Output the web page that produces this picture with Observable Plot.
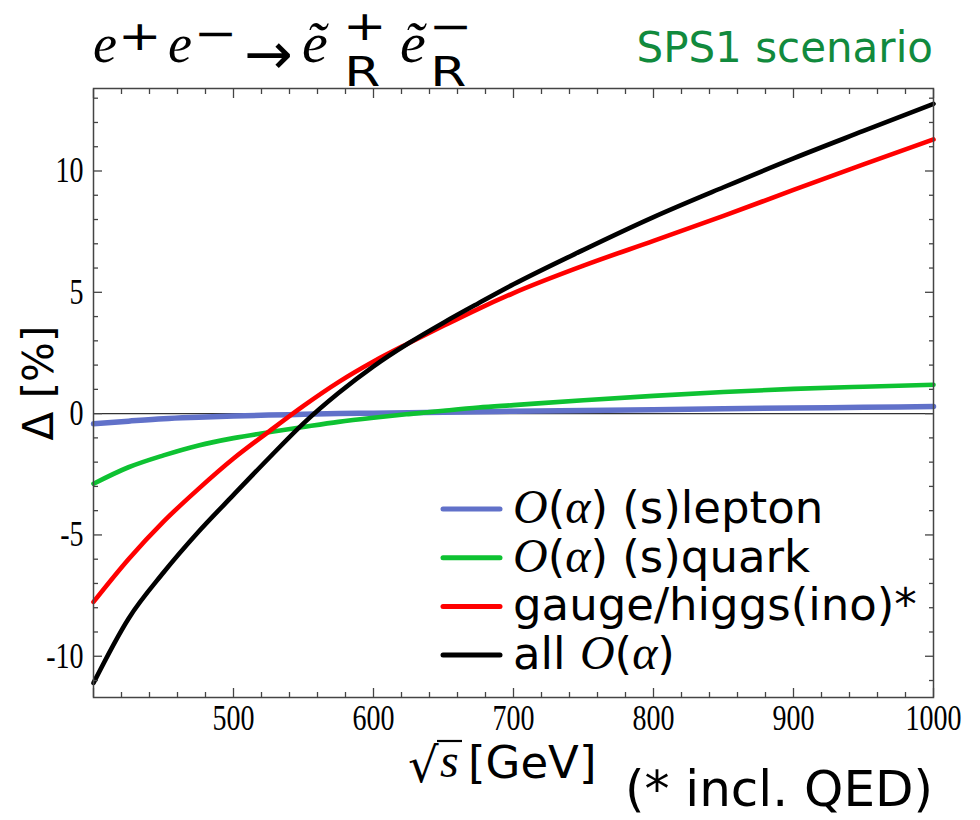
<!DOCTYPE html>
<html><head><meta charset="utf-8">
<script src="https://cdn.jsdelivr.net/npm/d3@7"></script>
<script src="https://cdn.jsdelivr.net/npm/@observablehq/plot@0.6"></script>
<style>
body{margin:0;background:#fff;}
#wrap{position:relative;width:980px;height:820px;overflow:hidden;background:#fff;}
</style></head>
<body><div id="wrap"></div>
<script>
// ---- data ----
const energy          = [400, 425, 450, 475, 500, 525, 550, 575, 600, 625, 650, 675, 700, 750, 800, 850, 900, 950, 1000];
const sleptonDelta    = [-0.42, -0.31, -0.21, -0.15, -0.10, -0.06, -0.03, 0.00, 0.02, 0.04, 0.06, 0.08, 0.10, 0.13, 0.16, 0.20, 0.23, 0.26, 0.29];
const squarkDelta     = [-2.89, -2.21, -1.72, -1.31, -1.01, -0.77, -0.55, -0.34, -0.17, -0.02, 0.12, 0.25, 0.35, 0.55, 0.73, 0.89, 1.02, 1.11, 1.19];
const gaugeHiggsDelta = [-7.76, -6.00, -4.45, -3.10, -1.85, -0.75, 0.32, 1.30, 2.15, 2.90, 3.62, 4.32, 4.97, 6.10, 7.12, 8.15, 9.22, 10.27, 11.30];
const allDelta        = [-11.10, -8.45, -6.55, -4.87, -3.35, -1.85, -0.40, 0.85, 1.95, 2.90, 3.75, 4.55, 5.33, 6.75, 8.10, 9.33, 10.52, 11.65, 12.77];

const seriesKeys   = ["slepton", "squark", "gaugehiggs", "all"];
const seriesColors = ["#6171c9", "#0ec232", "#ff0000", "#000000"];
const seriesWidths = [5.5, 4.6, 4.6, 4.6];
const legendLabels = ["{O}({α}) (s)lepton", "{O}({α}) (s)quark", "gauge/higgs(ino)*", "all {O}({α})"];

const xTickLabels = [500, 600, 700, 800, 900, 1000];
const xMajorTicks = [400, 500, 600, 700, 800, 900, 1000];
const xMinorTicks = [420, 440, 460, 480, 520, 540, 560, 580, 620, 640, 660, 680, 720, 740, 760, 780, 820, 840, 860, 880, 920, 940, 960, 980];
const yTickLabels = [-10, -5, 0, 5, 10];
const yMinorTicks = [-11, -9, -8, -7, -6, -4, -3, -2, -1, 1, 2, 3, 4, 6, 7, 8, 9, 11, 12, 13];

const titleText = "SPS1 scenario";
const xTitleText = "[GeV]";
const yTitleText = "Δ [%]";
const noteText = "(* incl. QED)";

// ---- table built from the arrays ----
const seriesValues = [sleptonDelta, squarkDelta, gaugeHiggsDelta, allDelta];
const table = [];
seriesKeys.forEach((k, j) => energy.forEach((e, i) => table.push({energy: e, delta: seriesValues[j][i], series: k})));

const tickStyle = {stroke: "#444", strokeWidth: 1.3, fill: "none", label: null};

const plot = Plot.plot({
  width: 980, height: 820,
  marginTop: 88, marginRight: 47, marginBottom: 123, marginLeft: 93,
  x: {domain: [400, 1000]},
  y: {domain: [-11.7, 13.4]},
  color: {domain: seriesKeys, range: seriesColors},
  style: {background: "white", color: "black"},
  marks: [
    Plot.ruleY([0], {stroke: "#333", strokeWidth: 1.3}),
    ...seriesKeys.map((k, j) => Plot.line(table.filter(d => d.series === k), {
      x: "energy", y: "delta", stroke: "series", strokeWidth: seriesWidths[j], curve: "monotone-x"
    })),
    Plot.frame({stroke: "#444", strokeWidth: 1.5}),
    Plot.axisX(xMajorTicks, {anchor: "bottom", tickSize: 9, insetBottom: 9, ...tickStyle}),
    Plot.axisX(xMinorTicks, {anchor: "bottom", tickSize: 5, insetBottom: 5, ...tickStyle}),
    Plot.axisX(xMajorTicks, {anchor: "top", tickSize: 9, insetTop: 9, ...tickStyle}),
    Plot.axisX(xMinorTicks, {anchor: "top", tickSize: 5, insetTop: 5, ...tickStyle}),
    Plot.axisY(yTickLabels, {anchor: "left", tickSize: 9, insetLeft: 9, ...tickStyle}),
    Plot.axisY(yMinorTicks, {anchor: "left", tickSize: 5, insetLeft: 5, ...tickStyle}),
    Plot.axisY(yTickLabels, {anchor: "right", tickSize: 9, insetRight: 9, ...tickStyle}),
    Plot.axisY(yMinorTicks, {anchor: "right", tickSize: 5, insetRight: 5, ...tickStyle}),
    Plot.axisX(xTickLabels, {anchor: "bottom", tickSize: 0, tickPadding: 7, label: null,
      fontSize: 28, fontFamily: "Liberation Serif", tickFormat: d => String(d)}),
    Plot.axisY(yTickLabels, {anchor: "left", tickSize: 0, tickPadding: 10, label: null,
      fontSize: 28, fontFamily: "Liberation Serif", tickFormat: d => String(d)})
  ]
});
document.getElementById("wrap").appendChild(plot);

// ---- annotations ----
const svg = d3.select(plot);

// tick labels of the reference are tall and narrow: stretch them vertically
svg.selectAll('g[aria-label="x-axis tick label"] text, g[aria-label="y-axis tick label"] text').each(function() {
  const el = d3.select(this);
  const tr = el.attr("transform");
  if (tr && tr.includes("translate")) {
    el.attr("transform", tr + " scale(1,1.28)");
  } else if (el.attr("x") != null || el.attr("y") != null) {
    const x = +(el.attr("x") || 0), y = +(el.attr("y") || 0);
    el.attr("x", null).attr("y", null).attr("transform", `translate(${x},${y}) scale(1,1.28)`);
  }
});

const g = svg.append("g").attr("class", "annotations").attr("text-anchor", "start");
function txt(x, y, s, o = {}) {
  return g.append("text")
    .attr("transform", `translate(${x},${y})` + (o.rotate ? ` rotate(${o.rotate})` : "") + (o.sx ? ` scale(${o.sx},1)` : ""))
    .attr("font-family", o.family || "DejaVu Sans")
    .attr("font-size", o.size || 40)
    .attr("font-style", o.italic ? "italic" : null)
    .attr("text-anchor", o.anchor || "start")
    .attr("fill", o.fill || "#000")
    .text(s);
}
// stacked superscript / subscript as one text element
function supsub(x, sup, supY, sub, subY) {
  const t = g.append("text").attr("transform", `translate(${x},0) scale(1.3,1)`)
    .attr("font-family", "DejaVu Sans").attr("font-size", 40).attr("text-anchor", "start").attr("fill", "#000");
  t.append("tspan").attr("x", 0).attr("y", supY).text(sup);
  if (sub) t.append("tspan").attr("x", 1).attr("y", subY).text(sub);
  return t;
}
// title: e+ e- -> e~R+ e~R-
const serif = "Liberation Serif";
txt(93, 62, "e", {family: serif, italic: true, size: 54});
supsub(118, "+", 50);
txt(168, 62, "e", {family: serif, italic: true, size: 54});
supsub(194, "−", 47);
txt(244, 74, "→", {size: 58});
txt(302, 62, "ẽ", {family: serif, italic: true, size: 58});
supsub(343, "+", 40, "R", 86.5);
txt(400, 62, "ẽ", {family: serif, italic: true, size: 58});
supsub(429, "−", 40, "R", 86.5);

txt(933, 62, titleText, {size: 42, anchor: "end", fill: "#118a3d"});
txt(53, 383, yTitleText, {size: 42, anchor: "middle", rotate: -90});
// x title: sqrt(s) [GeV]
txt(408, 782, "√", {family: "DejaVu Serif", size: 48});
g.append("line").attr("x1", 437).attr("x2", 462).attr("y1", 741).attr("y2", 741).attr("stroke", "#000").attr("stroke-width", 2.2);
txt(440, 777, "s", {family: serif, italic: true, size: 48});
txt(468, 778, xTitleText, {size: 45});
txt(933, 806, noteText, {size: 50, anchor: "end"});

// legend
const legendX = 443, legendY = 509, legendStep = 48.7;
legendLabels.forEach((lab, j) => {
  const y = legendY + j * legendStep;
  g.append("line").attr("x1", legendX).attr("x2", legendX + 57).attr("y1", y).attr("y2", y)
    .attr("stroke", seriesColors[j]).attr("stroke-width", 5).attr("stroke-linecap", "round");
  const t = g.append("text").attr("x", legendX + 70).attr("y", y + 14).attr("text-anchor", "start")
    .attr("font-family", "DejaVu Sans").attr("font-size", 45).attr("fill", "#000");
  lab.split(/(\{[^}]*\})/).filter(s => s.length).forEach(part => {
    if (part.startsWith("{")) {
      t.append("tspan").attr("font-family", serif).attr("font-style", "italic").attr("font-size", 48).text(part.slice(1, -1));
    } else {
      t.append("tspan").text(part);
    }
  });
});
</script>
</body></html>
